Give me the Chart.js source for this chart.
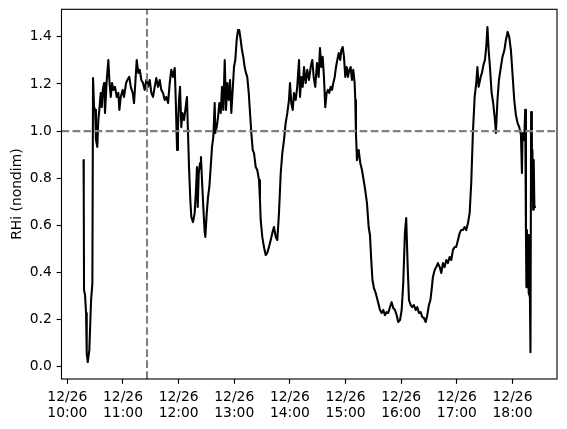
<!DOCTYPE html>
<html>
<head>
<meta charset="utf-8">
<script src="https://cdn.jsdelivr.net/npm/chart.js@4.4.1/dist/chart.umd.min.js"></script>
<style>
    html, body { margin: 0; padding: 0; background: #fff; }
    #wrap { width: 567px; height: 429px; }
</style>
</head>
<body>
<div id="wrap"><canvas id="rhiChart" width="567" height="429"></canvas></div>
<script>
'use strict';

// ── Data (minutes after 12/26 10:00, RHi) ────────────────────────────────
const times = [
    17.5, 17.7, 18.0, 19.1, 20.2, 20.9, 22.0, 23.7, 25.6, 27.0,
    27.7, 28.8, 29.9, 30.9, 32.3, 33.4, 34.5, 36.0, 37.1, 38.2,
    39.6, 40.6, 42.5, 44.2, 45.3, 46.8, 48.2, 49.6, 51.4, 53.3,
    55.0, 56.1, 57.6, 59.7, 61.1, 63.3, 64.7, 66.8, 68.4, 70.5,
    71.9, 73.3, 74.8, 76.5, 78.1, 79.8, 81.6, 83.4, 85.2, 87.0,
    88.8, 90.6, 92.4, 94.2, 95.9, 97.8, 99.6, 101.3, 103.2, 105.0,
    106.7, 108.6, 110.4, 112.1, 113.9, 115.8, 116.9, 118.3, 119.3, 120.4,
    121.5, 122.9, 124.0, 125.8, 127.2, 129.0, 130.1, 131.2, 132.6, 133.7,
    135.5, 137.3, 138.7, 139.8, 140.6, 141.7, 143.1, 144.1, 145.2, 146.6,
    148.1, 148.8, 150.3, 151.7, 153.1, 154.6, 156.0, 157.4, 158.9, 159.5,
    161.1, 162.5, 163.9, 165.4, 166.8, 168.2, 169.7, 171.1, 172.5, 174.0,
    175.4, 176.8, 178.3, 179.7, 181.1, 182.6, 184.0, 185.4, 186.9, 188.3,
    189.7, 191.2, 192.6, 194.0, 195.6, 197.0, 198.4, 199.9, 201.3, 203.1,
    204.8, 206.7, 207.7, 208.5, 210.2, 212.0, 213.9, 215.6, 217.4, 219.3,
    221.0, 222.8, 224.7, 226.4, 228.2, 230.1, 231.8, 233.6, 235.4, 237.2,
    239.0, 240.1, 241.5, 243.0, 244.4, 246.2, 247.9, 249.8, 250.9, 252.3,
    253.8, 255.2, 257.0, 258.7, 260.6, 262.4, 264.1, 265.6, 267.3, 269.2,
    271.0, 272.4, 273.8, 275.3, 276.7, 278.1, 279.6, 281.0, 282.4, 284.0,
    285.4, 286.8, 288.3, 289.7, 291.1, 292.6, 294.3, 295.4, 296.9, 298.3,
    299.7, 301.2, 302.6, 304.0, 305.5, 306.9, 308.3, 309.8, 310.5, 311.2,
    312.3, 314.1, 315.9, 317.7, 319.5, 321.2, 323.1, 324.9, 326.3, 327.7,
    329.0, 330.6, 332.2, 333.9, 335.3, 337.1, 338.9, 340.7, 342.5, 344.3,
    346.0, 347.9, 349.7, 351.4, 353.3, 355.1, 356.8, 358.7, 360.5, 362.2,
    364.0, 365.4, 367.0, 368.4, 370.2, 371.9, 373.7, 375.6, 377.3, 379.1,
    381.0, 382.7, 384.5, 386.4, 388.1, 389.9, 391.5, 392.8, 394.2, 396.1,
    397.8, 399.6, 401.5, 403.2, 405.0, 406.8, 408.6, 410.4, 412.2, 414.0,
    415.8, 417.6, 419.3, 421.2, 423.0, 424.7, 426.6, 428.4, 430.1, 432.0,
    433.8, 435.5, 437.3, 439.2, 440.9, 442.2, 443.5, 445.7, 447.1, 448.7,
    450.3, 451.7, 453.0, 454.3, 455.7, 457.5, 459.2, 461.1, 462.1, 463.8,
    465.4, 467.0, 469.2, 471.3, 472.9, 474.8, 476.5, 478.3, 480.1, 481.9,
    483.7, 485.5, 487.3, 489.1, 490.2, 490.9, 492.7, 493.7, 494.5, 495.0,
    495.6, 496.3, 497.0, 497.5, 498.8, 499.4, 500.1, 500.9, 501.5, 502.3,
    502.9, 503.6, 504.5
];
const rhi = [
    0.877, 0.720, 0.326, 0.304, 0.228, 0.058, 0.020, 0.071, 0.283, 0.355,
    1.225, 1.102, 1.090, 0.962, 0.933, 1.047, 1.090, 1.162, 1.102, 1.175,
    1.204, 1.077, 1.217, 1.302, 1.217, 1.145, 1.204, 1.175, 1.188, 1.145,
    1.162, 1.090, 1.145, 1.175, 1.145, 1.204, 1.217, 1.230, 1.188, 1.162,
    1.119, 1.204, 1.302, 1.247, 1.260, 1.217, 1.204, 1.175, 1.217, 1.188,
    1.217, 1.162, 1.145, 1.188, 1.225, 1.188, 1.217, 1.175, 1.162, 1.132,
    1.145, 1.119, 1.204, 1.260, 1.230, 1.268, 1.132, 0.920, 1.017, 1.132,
    1.188, 1.017, 1.077, 1.047, 1.090, 1.145, 0.992, 0.848, 0.708, 0.636,
    0.614, 0.652, 0.750, 0.848, 0.678, 0.822, 0.865, 0.890, 0.792, 0.678,
    0.572, 0.551, 0.652, 0.720, 0.763, 0.848, 0.933, 0.975, 1.119, 0.992,
    1.017, 1.060, 1.119, 1.077, 1.188, 1.090, 1.302, 1.090, 1.204, 1.132,
    1.217, 1.077, 1.175, 1.272, 1.302, 1.387, 1.429, 1.429, 1.387, 1.344,
    1.315, 1.272, 1.247, 1.230, 1.162, 1.077, 0.992, 0.920, 0.907, 0.848,
    0.835, 0.792, 0.708, 0.623, 0.551, 0.508, 0.474, 0.483, 0.508, 0.538,
    0.567, 0.593, 0.551, 0.538, 0.652, 0.822, 0.907, 0.962, 1.034, 1.077,
    1.132, 1.204, 1.119, 1.090, 1.162, 1.132, 1.188, 1.302, 1.145, 1.230,
    1.188, 1.272, 1.204, 1.260, 1.217, 1.272, 1.302, 1.230, 1.188, 1.289,
    1.230, 1.353, 1.272, 1.315, 1.230, 1.102, 1.162, 1.175, 1.162, 1.188,
    1.175, 1.204, 1.230, 1.272, 1.302, 1.331, 1.302, 1.344, 1.357, 1.315,
    1.230, 1.272, 1.230, 1.260, 1.272, 1.217, 1.260, 1.204, 1.132, 0.992,
    0.877, 0.920, 0.865, 0.835, 0.792, 0.750, 0.694, 0.593, 0.559, 0.453,
    0.368, 0.334, 0.317, 0.292, 0.270, 0.241, 0.228, 0.241, 0.219, 0.232,
    0.228, 0.253, 0.274, 0.249, 0.241, 0.219, 0.190, 0.198, 0.241, 0.355,
    0.567, 0.631, 0.423, 0.283, 0.262, 0.253, 0.262, 0.241, 0.253, 0.228,
    0.232, 0.211, 0.207, 0.190, 0.219, 0.262, 0.283, 0.326, 0.381, 0.411,
    0.423, 0.440, 0.423, 0.398, 0.440, 0.423, 0.453, 0.440, 0.466, 0.453,
    0.496, 0.508, 0.508, 0.538, 0.567, 0.580, 0.580, 0.593, 0.580, 0.609,
    0.652, 0.779, 0.992, 1.145, 1.204, 1.272, 1.188, 1.230, 1.247, 1.281,
    1.302, 1.357, 1.442, 1.344, 1.272, 1.162, 1.119, 1.047, 0.992, 1.132,
    1.217, 1.260, 1.315, 1.344, 1.387, 1.421, 1.399, 1.344, 1.238, 1.132,
    1.068, 1.034, 1.017, 0.984, 0.822, 0.992, 0.962, 1.090, 0.580, 0.338,
    0.580, 0.338, 0.559, 0.312, 0.296, 0.062, 1.081, 0.708, 0.920, 0.666,
    0.877, 0.684, 0.673
];

// reference lines
const saturationRHi = 1.0;
const markerMinute = 85.9;   // ~11:26

// ticks
const tickDate = '12/26';
const xTickMinutes = [0, 60, 120, 180, 240, 300, 360, 420, 480];
const xTickTimes = ['10:00', '11:00', '12:00', '13:00', '14:00', '15:00', '16:00', '17:00', '18:00'];
const yTicks = [0.0, 0.2, 0.4, 0.6, 0.8, 1.0, 1.2, 1.4];

// axis limits
const xMin = -6.3, xMax = 528.0;
const yMin = -0.052, yMax = 1.517;

// ── Style helpers (matplotlib look, 100 dpi) ─────────────────────────────
const PT = 100 / 72;
const FONT = { family: 'DejaVu Sans', size: 10 * PT, lineHeight: 1.2 };
const tickGrid = {
    drawOnChartArea: false, drawTicks: true,
    tickLength: 3.5 * PT, tickWidth: 0.8 * PT, tickColor: '#000'
};

// no extra room for the outer tick labels, layout padding decides the plot box
function noScalePadding(s) {
    s.paddingTop = 0; s.paddingBottom = 0;
    s.paddingLeft = 0; s.paddingRight = 0;
}

const framePlugin = {
    id: 'frame',
    afterDatasetsDraw(chart) {
        const { ctx, chartArea: a } = chart;
        ctx.save();
        ctx.strokeStyle = '#000';
        ctx.lineWidth = 0.8 * PT;
        ctx.strokeRect(a.left, a.top, a.right - a.left, a.bottom - a.top);
        ctx.restore();
    }
};

const dashed = {
    borderColor: '#808080', borderWidth: 1.5 * PT,
    borderDash: [5.55 * PT, 2.4 * PT], pointRadius: 0, tension: 0
};

new Chart(document.getElementById('rhiChart').getContext('2d'), {
    type: 'line',
    data: {
        datasets: [
            { ...dashed, data: [{ x: xMin, y: saturationRHi }, { x: xMax, y: saturationRHi }] },
            { ...dashed, data: [{ x: markerMinute, y: yMin }, { x: markerMinute, y: yMax }] },
            {
                data: times.map((t, i) => ({ x: t, y: rhi[i] })),
                borderColor: '#000', borderWidth: 1.5 * PT,
                borderJoinStyle: 'round', pointRadius: 0, tension: 0
            }
        ]
    },
    options: {
        responsive: false, animation: false,
        layout: { padding: { left: 0, top: 9.3, right: 10, bottom: 0 } },
        plugins: { legend: { display: false }, tooltip: { enabled: false } },
        scales: {
            x: {
                type: 'linear', min: xMin, max: xMax,
                afterBuildTicks: s => { s.ticks = xTickMinutes.map(v => ({ value: v })); },
                afterFit: s => { s.height = 50; noScalePadding(s); },
                grid: tickGrid,
                border: { display: false },
                ticks: {
                    color: '#000', font: FONT, padding: 3.5 * PT,
                    maxRotation: 0, autoSkip: false,
                    callback: v => [tickDate, xTickTimes[xTickMinutes.indexOf(v)]]
                }
            },
            y: {
                type: 'linear', min: yMin, max: yMax,
                afterBuildTicks: s => { s.ticks = yTicks.map(v => ({ value: v })); },
                afterFit: s => { s.width = 61.5; noScalePadding(s); },
                grid: tickGrid,
                border: { display: false },
                ticks: {
                    color: '#000', font: FONT, padding: 3.5 * PT,
                    callback: v => v.toFixed(1)
                },
                title: {
                    display: true, text: 'RHi (nondim)', color: '#000',
                    font: FONT, padding: { top: 9, bottom: 0 }
                }
            }
        }
    },
    plugins: [framePlugin]
});
</script>
</body>
</html>
